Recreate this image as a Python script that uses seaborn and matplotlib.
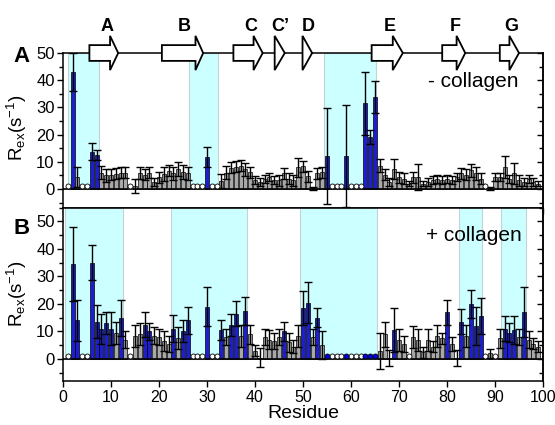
import numpy as np
import pandas as pd
import matplotlib
matplotlib.use("Agg")
import matplotlib.pyplot as plt
import seaborn as sns
from matplotlib.patches import Polygon
from matplotlib.ticker import MultipleLocator

# ---------------- data ----------------
residues = list(range(1, 100))
N = None
rex_minus = [N, 43, 4.5, N, N, 13.7, 12.5, 6, 5, 5.2,
             5.6, 6, 6, N, 1.2, 6, 5.2, 6, 2.6, 4.3,
             5.6, 6.7, 5.7, 7.3, 6.2, 5.7, N, N, N, 11.9,
             N, N, 3, 6, 7.8, 8.2, 8.6, 7.2, 6.2, 3.2,
             2.7, 3.7, 4.3, 3.2, 3.2, 5.7, 3.7, 3.2, 7.9, 8.3,
             4.6, 0.3, 5.7, 6.2, 12.1, N, N, N, 12.1, N,
             N, N, 31.5, 19.2, 33.9, 8.6, 5.2, 2.7, 7.4, 4.3,
             3.7, 2, 4.3, 4.4, 2, 2.7, 3.2, 3.7, 3.2, 3.7,
             3.2, 4.3, 5.7, 5.2, 6.8, 5.7, 3.7, N, 0.3, 4.3,
             4.3, 8.2, 3.7, 5.7, 3.2, 2.7, 3.7, 2.7, 2]
err_minus = [N, 7, 3.7, N, N, 3.1, 1.8, 2.5, 2.5, 2,
             2, 2, 2, N, 2.6, 2.2, 2, 2, 1.5, 2,
             2.5, 2, 2.5, 2.5, 2.5, 2.5, N, N, N, 3.7,
             N, N, 2.5, 2.5, 2, 2, 2, 2.5, 2, 1.5,
             1.5, 1.5, 1.5, 1.5, 2, 2, 2, 2, 3.5, 2,
             2, 0.5, 2, 2, 17.7, N, N, N, 18.7, N,
             N, N, 11.6, 2.5, 5.9, 2.5, 2, 1.5, 3.8, 2,
             2, 1, 2, 4.8, 1, 1.5, 1.5, 1.5, 1.5, 1.5,
             1.5, 1.5, 2, 2, 2.5, 2.5, 2, N, 0.5, 1.5,
             1.5, 4, 1.5, 3.7, 2, 1.5, 1.5, 1.5, 1]
blue_minus = [2, 6, 7, 30, 55, 59, 63, 64, 65]

rex_plus = [N, 34.5, 14, N, N, 35, 13.5, 11, 13, 11,
            9.5, 15, 7, N, 8.5, 9, 12.5, 10, 8.5, 8,
            6.5, 5.5, 11, 7.5, 10, 14, N, N, N, 19,
            N, N, 10.5, 8, 12.5, 16.5, 8.5, 17.5, 9, 3,
            0.5, 8, 7, 6.5, 8, 10, 6, 4.5, 8.5, 18.5,
            20.5, 8, 15, 5, N, N, N, N, N, N,
            N, N, N, N, N, 3, 9, 0.3, 10.5, 7,
            5.5, N, 8, 7, 2.5, 7, 4.5, 8.5, 7.5, 17,
            5.5, 0.3, 13.5, 8.5, 20, 12, 15.5, N, 2, N,
            7.5, 11, 9.5, 10.5, 8, 17, 7, 5.5, 4.5]
err_plus = [N, 13.5, 7.5, N, N, 6.5, 6, 5.5, 4, 6,
            4, 6.5, 3, N, 4, 4, 4.5, 3, 3, 3,
            3.5, 3, 5, 4, 4, 5, N, N, N, 7,
            N, N, 3.5, 3, 4, 4.5, 4, 5, 3.5, 2,
            3.5, 3, 3.5, 3, 3, 3.5, 3.5, 2.5, 4, 6,
            7.5, 3, 3.5, 5, N, N, N, N, N, N,
            N, N, N, N, N, 6.5, 4.5, 3, 8, 4,
            3, N, 4, 4, 2, 4, 2, 4, 2, 4.5,
            2.5, 3, 4.5, 4, 5, 7, 6.5, N, 1.5, N,
            3.5, 4.5, 3.5, 5, 3, 9, 3, 2, 2]
blue_plus = [2, 3, 6, 7, 8, 9, 10, 12, 17, 18, 23, 25, 26, 30, 33, 35, 36,
             38, 46, 50, 51, 53, 69, 80, 83, 85, 86, 87, 92, 93, 94, 96]
blue_dots_plus = [55, 59, 63, 64, 65]

shade_minus = [(1.1, 7.4), (26.3, 32.3), (54.4, 65.2)]
shade_plus = [(0.4, 12.6), (22.6, 38.3), (49.4, 65.5), (82.4, 87.3), (91.2, 96.4)]

strand_names = ["A", "B", "C", "C\u2019", "D", "E", "F", "G"]
strand_start = [5.5, 20.6, 35.5, 44.1, 49.9, 64.3, 79.0, 91.0]
strand_body_end = [9.8, 27.6, 39.7, 44.1, 49.9, 68.7, 82.0, 93.0]
strand_tip = [11.5, 29.2, 41.6, 46.2, 51.9, 70.8, 83.8, 95.0]
strand_label_x = [9.2, 25.3, 39.1, 45.2, 51.0, 68.1, 81.8, 93.4]

x_ticks = [0, 10, 20, 30, 40, 50, 60, 70, 80, 90, 100]
y_ticks = [0, 10, 20, 30, 40, 50]

# ---------------- style ----------------
sns.set_theme(style="ticks")
plt.rcParams["font.family"] = ["Liberation Sans", "DejaVu Sans"]
plt.rcParams["mathtext.fontset"] = "custom"
plt.rcParams["mathtext.rm"] = "Liberation Sans"
plt.rcParams["mathtext.it"] = "Liberation Sans:italic"
plt.rcParams["mathtext.bf"] = "Liberation Sans:bold"
plt.rcParams["mathtext.default"] = "regular"
for key in ["text.color", "axes.labelcolor", "xtick.color", "ytick.color",
            "axes.edgecolor"]:
    plt.rcParams[key] = "black"

BLUE = "#0000ee"
GRAY = "#a8a8a8"
CYAN = "#ccffff"
circle_level = 1.2

W, H = 555, 425
fig = plt.figure(figsize=(W / 100, H / 100), dpi=100)


def box(l, t, r, b):
    return [l / W, 1 - b / H, (r - l) / W, (b - t) / H]


axA = fig.add_axes(box(63, 53, 543, 208))
axB = fig.add_axes(box(63, 207.5, 543, 381))


def panel(ax, rex, err, blue, shades, blue_dots, ylim, show_xlabels):
    df = pd.DataFrame({"residue": residues, "rex": rex, "err": err})
    df["rex"] = pd.to_numeric(df["rex"])
    df["err"] = pd.to_numeric(df["err"])
    df["kind"] = np.where(df["residue"].isin(blue), "blue", "gray")
    have = df.dropna(subset=["rex"])
    missing = df[df["rex"].isna()]

    lo, hi = ylim
    for x0, x1 in shades:
        ax.axvspan(x0, x1, ymin=(0 - lo) / (hi - lo), ymax=1, facecolor=CYAN,
                   edgecolor="#c4d4d4", lw=0.8, zorder=0)

    sns.barplot(data=have, x="residue", y="rex", hue="kind",
                palette={"blue": BLUE, "gray": GRAY}, native_scale=True,
                dodge=False, width=0.8, edgecolor="black", linewidth=0.5,
                errorbar=None, legend=False, ax=ax, zorder=2)
    ax.errorbar(have["residue"], have["rex"], yerr=have["err"], fmt="none",
                ecolor="black", elinewidth=1.0, capsize=2.6, capthick=1.0,
                zorder=3)
    ax.axhline(0, color="black", lw=1.2, zorder=4)

    miss_blue = missing[missing["residue"].isin(blue_dots)]
    miss_white = missing[~missing["residue"].isin(blue_dots)]
    sns.scatterplot(x=miss_white["residue"], y=[circle_level] * len(miss_white),
                    color="white", edgecolor="black", linewidth=0.6, s=13,
                    zorder=5, ax=ax, legend=False)
    if len(miss_blue):
        sns.scatterplot(x=miss_blue["residue"], y=[circle_level] * len(miss_blue),
                        color=BLUE, edgecolor="black", linewidth=0.6, s=13,
                        zorder=5, ax=ax, legend=False)

    ax.set_xlim(0, 100)
    ax.set_ylim(lo, hi)
    ax.set_xticks(x_ticks)
    ax.set_yticks(y_ticks)
    ax.yaxis.set_minor_locator(MultipleLocator(5))
    ax.tick_params(axis="y", which="major", direction="out", length=4.5,
                   width=1.0, labelsize=12, pad=1.5, colors="black")
    ax.tick_params(axis="y", which="minor", direction="out", length=2.8, width=1.0)
    ax.tick_params(axis="x", which="major", direction="out", length=4.5,
                   width=1.0, labelsize=11.5, pad=2, labelbottom=show_xlabels,
                   colors="black")
    for s in ax.spines.values():
        s.set_linewidth(1.1)
        s.set_color("black")
    sec = ax.secondary_yaxis("right")
    sec.set_yticks(y_ticks)
    sec.yaxis.set_minor_locator(MultipleLocator(5))
    sec.tick_params(axis="y", which="major", direction="in", length=4.5,
                    width=1.0, labelright=False)
    sec.tick_params(axis="y", which="minor", direction="in", length=2.8, width=1.0)
    sec.spines["right"].set_linewidth(1.1)
    ax.set_ylabel("R$_{ex}$(s$^{-1}$)", fontsize=13.5)
    ax.set_xlabel("")


panel(axA, rex_minus, err_minus, blue_minus, shade_minus, [], (-7, 50), False)
panel(axB, rex_plus, err_plus, blue_plus, shade_plus, blue_dots_plus, (-8, 55), True)

axA.yaxis.set_label_coords((29 - 63) / 480, 0.52)
axB.yaxis.set_label_coords((29 - 63) / 480, 0.50)
axB.set_xlabel("Residue", fontsize=14, labelpad=0)

# beta strands on top of panel A
hb, hh, yc = 2.9, 6.3, 50
for name, s, b, t, lx in zip(strand_names, strand_start, strand_body_end,
                             strand_tip, strand_label_x):
    if b > s:
        pts = [(s, yc - hb), (b, yc - hb), (b, yc - hh), (t, yc), (b, yc + hh),
               (b, yc + hb), (s, yc + hb)]
    else:
        pts = [(s, yc - hh), (t, yc), (s, yc + hh)]
    axA.add_patch(Polygon(pts, closed=True, facecolor="white", edgecolor="black",
                          lw=1.3, clip_on=False, zorder=10))
    axA.text(lx, 59.8, name, ha="center", va="center", fontsize=13,
             fontweight="bold", clip_on=False)

axA.text(85.5, 39.5, "- collagen", ha="center", va="center", fontsize=15)
axB.text(85.7, 45, "+ collagen", ha="center", va="center", fontsize=15)

fig.text(21.5 / W, 1 - 56.5 / H, "A", ha="center", va="center", fontsize=16,
         fontweight="bold")
fig.text(21.5 / W, 1 - 228.5 / H, "B", ha="center", va="center", fontsize=16,
         fontweight="bold")

fig.savefig("out.png", dpi=100)
